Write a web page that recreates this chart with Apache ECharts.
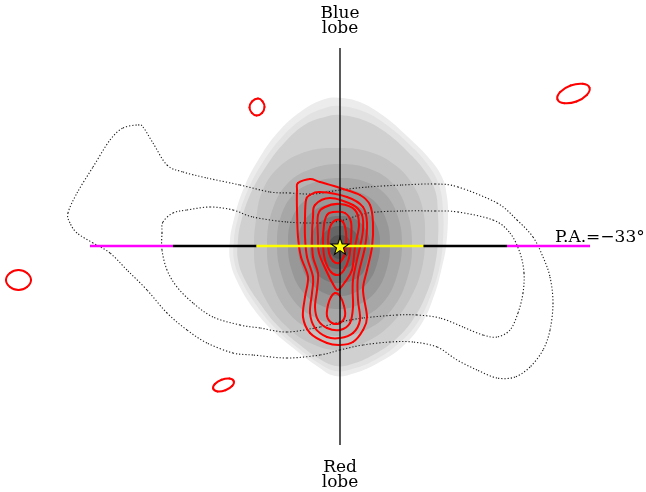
<!DOCTYPE html>
<html>
<head>
<meta charset="utf-8">
<script src="https://cdn.jsdelivr.net/npm/echarts@6/dist/echarts.min.js"></script>
<style>
  html, body { margin: 0; background: #fff; }
  #chart { width: 646px; height: 492px; }
</style>
</head>
<body>
<div id="chart"></div>
<script>
// offsets from the source (x to the right, y up), 10 px per unit

// grey filled contours, outer to inner
const gray1 = [[0.2,14.8],[2.2,14.3],[4.5,12.9],[6.8,10.9],[8.8,8.9],[10.2,6.9],[10.7,4.9],[10.8,2.9],[10.6,-0.1],[10.2,-2.1],[9.5,-4.7],[8.2,-7.7],[6.2,-10.1],[3.8,-11.7],[1.5,-12.7],[-0.5,-13.0],[-2.3,-12.0],[-4.3,-10.5],[-6.7,-8.5],[-8.7,-6.2],[-10.3,-3.5],[-11.0,-1.4],[-11.0,0.6],[-10.7,2.3],[-9.7,5.6],[-8.0,8.9],[-6.0,11.6],[-3.7,13.6],[-1.5,14.7]];
const gray2 = [[0,14.0],[2.5,13.4],[4.8,12.0],[7.0,10.1],[8.8,8.1],[9.9,6.1],[10.3,3.6],[10.3,0.6],[10.0,-1.9],[9.2,-4.6],[7.8,-7.6],[5.8,-9.8],[3.5,-11.4],[1.2,-12.3],[-0.5,-12.5],[-2.3,-11.6],[-4.2,-10.2],[-6.4,-8.3],[-8.3,-6.0],[-9.9,-3.4],[-10.6,-1.4],[-10.6,0.6],[-10.3,2.4],[-9.3,5.4],[-7.7,8.4],[-5.7,11.0],[-3.5,12.9],[-1.5,13.8]];
const gray3 = [[0,13.1],[2.6,12.5],[4.8,11.2],[6.8,9.4],[8.4,7.6],[9.5,5.6],[9.8,3.1],[9.8,0.6],[9.5,-1.9],[8.8,-4.4],[7.4,-7.2],[5.5,-9.4],[3.3,-10.9],[1.2,-11.8],[-0.4,-12.0],[-2.2,-11.2],[-4.0,-9.9],[-6.1,-8.1],[-7.9,-5.9],[-9.5,-3.4],[-10.2,-1.4],[-10.2,0.6],[-9.9,2.4],[-9.0,5.1],[-7.5,7.8],[-5.5,10.4],[-3.4,12.2],[-1.5,12.9]];
const gray4 = [[0,9.8],[3.0,9.4],[5.5,8.1],[7.3,6.1],[8.3,3.6],[8.5,0.6],[8.2,-2.2],[7.2,-4.9],[5.5,-7.4],[3.0,-9.4],[0,-10.4],[-3.0,-9.7],[-5.5,-7.9],[-7.4,-5.4],[-8.4,-2.6],[-8.6,0.1],[-8.4,2.6],[-7.8,5.4],[-6.2,7.8],[-3.5,9.4]];
const gray5 = [[0,8.2],[3.0,7.7],[5.3,6.2],[6.7,3.5],[7.2,0.3],[6.8,-3.0],[5.3,-6.2],[2.8,-8.3],[0,-9.0],[-2.8,-8.4],[-5.3,-6.5],[-6.9,-3.2],[-7.3,0.2],[-6.8,3.5],[-5.3,6.2],[-2.9,7.7]];
const gray6 = [[0,6.8],[2.6,6.4],[4.6,5.1],[5.8,2.9],[6.2,0.2],[5.8,-2.6],[4.6,-5.3],[2.4,-7.1],[0,-7.7],[-2.4,-7.2],[-4.6,-5.5],[-5.9,-2.7],[-6.3,0.2],[-5.9,3.0],[-4.6,5.2],[-2.5,6.4]];
const gray7 = [[0,5.7],[2.1,5.3],[3.7,4.2],[4.7,2.4],[5.0,0.2],[4.7,-2.2],[3.7,-4.4],[2.0,-5.8],[0,-6.3],[-2.0,-5.9],[-3.8,-4.5],[-4.9,-2.2],[-5.2,0.2],[-4.9,2.5],[-3.8,4.3],[-2.1,5.3]];
const gray8 = [[0,4.3],[1.7,4.0],[3.0,3.1],[3.8,1.7],[4.0,0],[3.7,-1.8],[2.9,-3.5],[1.6,-4.6],[0,-5.0],[-1.6,-4.7],[-3.0,-3.6],[-3.9,-1.8],[-4.2,0.1],[-3.9,1.9],[-3.0,3.2],[-1.7,4.0]];
const gray9 = [[0,3.0],[1.5,2.7],[2.6,1.6],[3.0,0],[2.7,-1.6],[2.0,-3.0],[0,-3.7],[-2.0,-3.1],[-2.8,-1.6],[-3.0,0.1],[-2.6,1.7],[-1.5,2.7]];
const gray10 = [[0,2.0],[1.5,1.4],[2.0,0],[1.5,-1.6],[0,-2.3],[-1.5,-1.7],[-2.0,0],[-1.5,1.4]];
const gray11 = [[0,1.1],[0.8,0.8],[1.1,0],[0.8,-0.9],[0,-1.3],[-0.8,-0.9],[-1.1,0],[-0.8,0.8]];

// dotted contours
const dotOuter = [[-20.2,12.1],[-19.7,11.9],[-18.7,10.3],[-17.3,8.1],[-15.7,7.4],[-13.3,6.8],[-10.0,6.1],[-7.0,5.4],[-5.0,5.3],[-2.7,5.2],[0,5.6],[2.8,5.9],[6.2,6.1],[9.5,6.2],[11.8,5.9],[15.7,4.3],[17.7,2.6],[19.3,0.9],[20.3,-1.1],[21.0,-3.1],[21.3,-5.7],[21.0,-8.4],[20.3,-10.4],[19.0,-12.1],[17.5,-13.1],[15.7,-13.2],[13.7,-12.4],[11.7,-11.4],[9.7,-10.1],[7.3,-9.6],[5.0,-9.6],[2.3,-9.9],[0,-10.4],[-2.0,-10.9],[-5.3,-11.2],[-8.7,-10.9],[-10.7,-10.7],[-13.3,-9.7],[-15.3,-8.4],[-17.3,-6.7],[-19.3,-4.4],[-21.3,-2.4],[-23.0,-0.7],[-24.7,0.3],[-26.3,1.3],[-27.0,2.3],[-27.2,3.3],[-26.3,5.3],[-24.7,7.9],[-23.0,10.6],[-21.7,11.8]];
const dotInner = [[-17.7,2.4],[-16.7,3.3],[-15.3,3.6],[-13.0,3.9],[-10.7,3.6],[-8.7,2.9],[-5.3,2.4],[-2.0,2.3],[0,2.5],[2.8,3.3],[6.2,3.5],[9.5,3.5],[11.8,3.4],[15.3,2.6],[17.0,1.3],[18.0,-0.7],[18.4,-2.7],[18.3,-4.7],[17.8,-6.7],[17.0,-8.4],[15.7,-9.1],[14.3,-8.9],[12.3,-8.1],[10.0,-7.2],[7.7,-6.9],[5.7,-6.9],[2.3,-7.2],[0,-7.6],[-2.0,-8.1],[-5.3,-8.6],[-8.0,-8.2],[-10.0,-7.9],[-12.7,-7.1],[-14.7,-5.7],[-16.3,-4.1],[-17.3,-2.4],[-17.8,-0.4],[-17.8,1.3]];

// red contours
const red1 = [[-4.2,6.3],[-3.0,6.7],[-2.0,6.4],[0,5.8],[2.0,5.1],[3.0,4.1],[3.3,2.3],[3.2,-0.1],[2.7,-2.4],[2.3,-4.4],[2.7,-7.1],[2.3,-8.4],[1.3,-9.6],[0,-9.9],[-1.3,-9.7],[-3.0,-8.7],[-3.7,-7.1],[-3.5,-5.1],[-3.2,-3.1],[-3.9,-1.1],[-4.2,0.9],[-4.3,3.6],[-4.3,5.6]];
const red2 = [[-3.4,4.6],[-3.0,5.1],[-2.0,5.4],[0.7,4.9],[2.3,3.9],[2.7,2.3],[2.5,-0.1],[1.8,-3.1],[1.8,-5.4],[2.0,-7.4],[1.3,-8.7],[0,-9.2],[-1.3,-9.1],[-2.5,-8.2],[-3.0,-6.7],[-2.8,-4.7],[-2.7,-3.1],[-3.3,-1.1],[-3.5,0.9],[-3.5,2.9]];
const red3 = [[-2.7,2.9],[-2.5,4.1],[-1.0,4.8],[1.3,4.1],[2.2,3.1],[2.3,1.6],[2.0,-0.1],[1.3,-3.4],[1.3,-6.1],[1.0,-7.7],[0,-8.4],[-1.3,-8.2],[-2.2,-7.4],[-2.5,-6.1],[-2.3,-4.4],[-2.2,-2.7],[-2.7,-1.1],[-2.8,0.9]];
const red4 = [[-1.5,3.9],[0,4.2],[1.5,3.6],[1.9,2.1],[1.5,-0.1],[1.2,-2.4],[0.5,-3.6],[-0.2,-4.4],[-0.7,-3.8],[-1.4,-2.4],[-2.1,-0.7],[-2.2,0.9],[-2.2,3.1]];
const red5 = [[-0.7,3.4],[0.5,3.3],[1.1,2.4],[1.1,0.6],[0.9,-1.2],[0.4,-2.4],[-0.2,-2.9],[-0.9,-2.6],[-1.5,-1.4],[-1.7,0.3],[-1.6,2.1],[-1.3,3.1]];
const red6 = [[-0.4,2.6],[0.3,2.4],[0.6,1.4],[0.6,0],[0.4,-1.0],[-0.1,-1.7],[-0.7,-1.5],[-1.1,-0.7],[-1.2,0.6],[-1.0,1.9]];
const redSouth = [[-0.5,-4.7],[0,-5.0],[0.4,-6.0],[0.5,-7.0],[0,-7.7],[-0.8,-7.7],[-1.3,-7.0],[-1.2,-5.9],[-0.9,-5.1]];
const redBlob1 = [[-8.2,14.75],[-7.75,14.47],[-7.55,13.9],[-7.8,13.3],[-8.35,13.05],[-8.82,13.32],[-9.05,13.85],[-8.8,14.45]];
const redBlob2 = [[24.95,15.83],[24.68,15.1],[23.64,14.45],[22.42,14.28],[21.75,14.67],[22.02,15.4],[23.06,16.05],[24.28,16.22]];
const redBlob3 = [[-32.15,-2.4],[-31.3,-2.7],[-30.9,-3.4],[-31.3,-4.1],[-32.15,-4.4],[-33.0,-4.1],[-33.4,-3.4],[-33.0,-2.7]];
const redBlob4 = [[-10.62,-13.53],[-10.79,-14.0],[-11.46,-14.42],[-12.25,-14.54],[-12.68,-14.27],[-12.51,-13.8],[-11.84,-13.38],[-11.05,-13.26]];

// position-angle cut and outflow axis
const cutBreaks = [-25, -16.7, -8.35, 8.35, 16.7, 25];
const cutColors = ['#ff00ff', '#000000', '#ffff00', '#000000', '#ff00ff'];
const axisEnds = [19.8, -19.9];
const sourcePos = [0, 0];

const grayLevels = [gray1, gray2, gray3, gray4, gray5, gray6, gray7, gray8, gray9, gray10, gray11];
const grayColors = ['#ececec', '#e2e2e2', '#d0d0d0', '#c3c3c3', '#b5b5b5', '#a7a7a7', '#989898', '#888888', '#777777', '#666666', '#575757'];
const redContours = [red1, red2, red3, red4, red5, red6, redSouth, redBlob1, redBlob2, redBlob3, redBlob4];

const starPath = 'path://M0,-100L22.5,-30.9L95.1,-30.9L36.3,11.8L58.8,80.9L0,38.2L-58.8,80.9L-36.3,11.8L-95.1,-30.9L-22.5,-30.9Z';

let z = 1;

// filled contour level
function fillSeries(points, color) {
  return {
    type: 'custom', coordinateSystem: 'cartesian2d', silent: true, clip: false, z: z++,
    data: [[0, 0]],
    renderItem: function (params, api) {
      return {
        type: 'polygon',
        shape: { points: points.map(function (p) { return api.coord(p); }), smooth: 0.4 },
        style: { fill: color, stroke: null }
      };
    }
  };
}

// closed contour line, drawn as a closed Catmull-Rom curve through the points
function lineSeries(points, style) {
  return {
    type: 'custom', coordinateSystem: 'cartesian2d', silent: true, clip: false, z: z++,
    data: [[0, 0]],
    renderItem: function (params, api) {
      const pts = points.map(function (p) { return api.coord(p); });
      const n = pts.length;
      const children = [];
      for (let i = 0; i < n; i++) {
        const p0 = pts[(i - 1 + n) % n], p1 = pts[i], p2 = pts[(i + 1) % n], p3 = pts[(i + 2) % n];
        children.push({
          type: 'bezierCurve',
          shape: {
            x1: p1[0], y1: p1[1], x2: p2[0], y2: p2[1],
            cpx1: p1[0] + (p2[0] - p0[0]) / 6, cpy1: p1[1] + (p2[1] - p0[1]) / 6,
            cpx2: p2[0] - (p3[0] - p1[0]) / 6, cpy2: p2[1] - (p3[1] - p1[1]) / 6
          },
          style: style
        });
      }
      return { type: 'group', children: children };
    }
  };
}

const series = [];
grayLevels.forEach(function (pts, i) {
  series.push(fillSeries(pts, grayColors[i]));
});
[dotOuter, dotInner].forEach(function (pts) {
  series.push(lineSeries(pts, { fill: 'none', stroke: '#1a1a1a', lineWidth: 1.1, lineDash: [1.2, 2] }));
});
redContours.forEach(function (pts) {
  series.push(lineSeries(pts, { fill: 'none', stroke: '#ff0000', lineWidth: 2, lineCap: 'round' }));
});
for (let i = 0; i < cutColors.length; i++) {
  series.push({
    type: 'line', silent: true, symbol: 'none', z: z++,
    data: [[cutBreaks[i], 0], [cutBreaks[i + 1], 0]],
    lineStyle: { color: cutColors[i], width: 2.5 }
  });
}
series.push({
  type: 'line', silent: true, symbol: 'none', z: z++,
  data: [[0, axisEnds[0]], [0, axisEnds[1]]],
  lineStyle: { color: '#000', width: 1.3 }
});
series.push({
  type: 'scatter', silent: true, z: z++,
  data: [sourcePos],
  symbol: starPath, symbolSize: [18, 17],
  itemStyle: { color: '#ffff00', borderColor: '#000', borderWidth: 1, opacity: 1 }
});

const chart = echarts.init(document.getElementById('chart'));
chart.setOption({
  animation: false,
  backgroundColor: '#fff',
  grid: { left: 0, right: 0, top: 0, bottom: 0 },
  xAxis: { type: 'value', min: -34, max: 30.6, show: false },
  yAxis: { type: 'value', min: -24.6, max: 24.6, show: false },
  graphic: [
    { type: 'text', x: 340, y: 6, z: 100, style: { text: 'Blue\nlobe', font: '17px "DejaVu Serif"', fill: '#000', align: 'center', verticalAlign: 'top', lineHeight: 15 } },
    { type: 'text', x: 340, y: 460, z: 100, style: { text: 'Red\nlobe', font: '17px "DejaVu Serif"', fill: '#000', align: 'center', verticalAlign: 'top', lineHeight: 15 } },
    { type: 'text', x: 555, y: 229.5, z: 100, style: { text: 'P.A.=\u221233\u00b0', font: '17px "DejaVu Serif"', fill: '#000', align: 'left', verticalAlign: 'top' } }
  ],
  series: series
});
</script>
</body>
</html>
